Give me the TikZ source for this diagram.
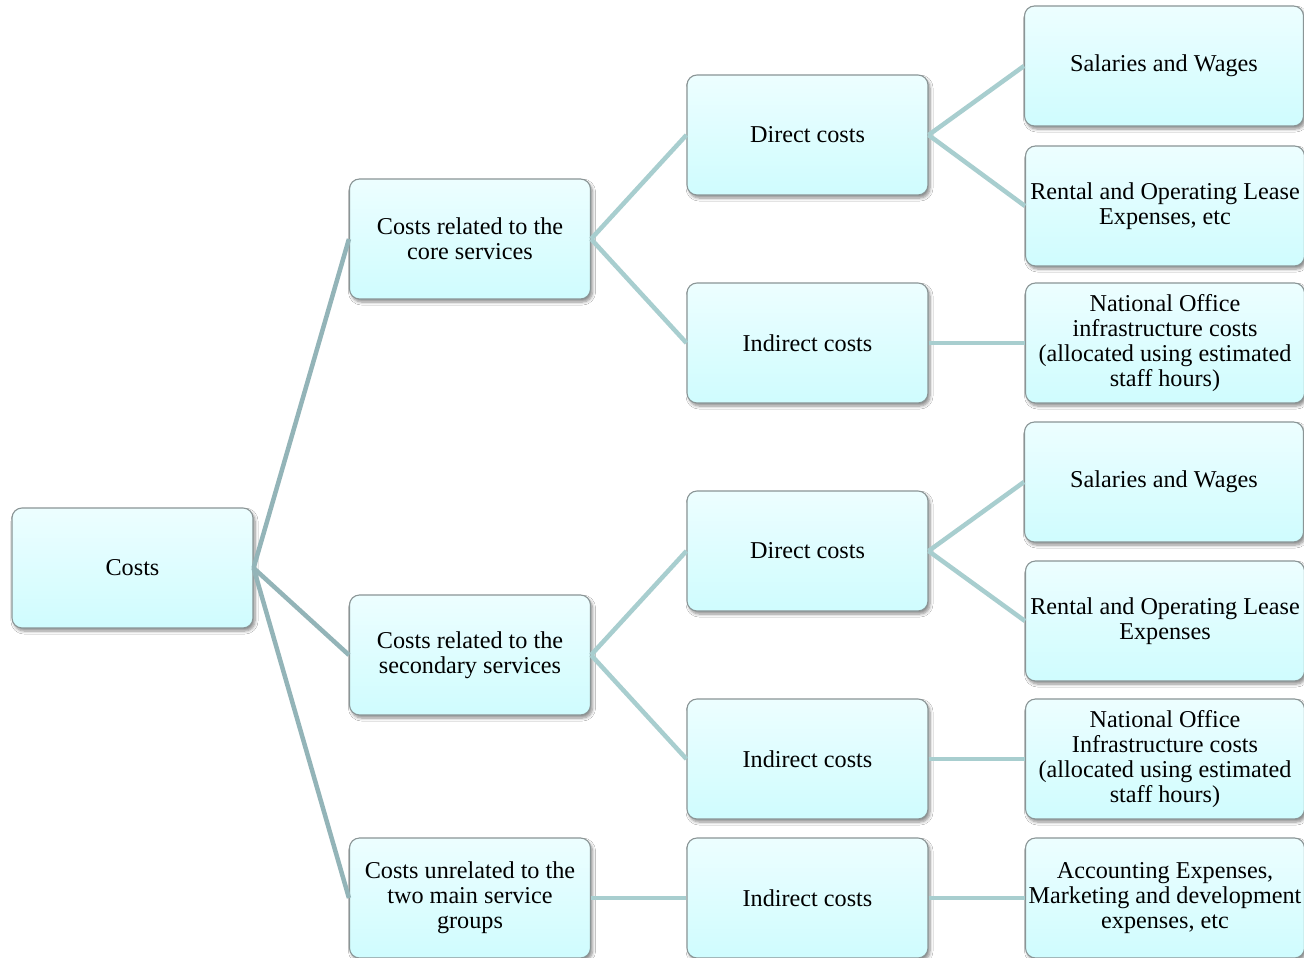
\documentclass[tikz,border=0pt]{standalone}
\usepackage{fontspec}
\setmainfont{Liberation Serif}
\usetikzlibrary{shadows.blur}
\definecolor{boxtop}{HTML}{EDFEFF}
\definecolor{boxbot}{HTML}{CFFCFE}
\definecolor{boxedge}{HTML}{8A9596}
\definecolor{linkA}{HTML}{93B4B8}
\definecolor{linkB}{HTML}{A8CECF}
\tikzset{
  costbox/.style={draw=boxedge, line width=1.1pt, rounded corners=10pt,
    top color=boxtop, bottom color=boxbot,
    minimum width=241pt, minimum height=120pt, align=center,
    font=\fontsize{24.2}{25}\selectfont, inner sep=1pt,
    blur shadow={shadow xshift=2pt, shadow yshift=-3pt, shadow blur steps=6,
      shadow blur radius=3pt, shadow opacity=45}},
  widebox/.style={costbox, minimum width=279pt},
  rootlink/.style={draw=linkA, line width=4.5pt},
  link/.style={draw=linkB, line width=4.5pt}
}
\begin{document}
\begin{tikzpicture}[x=1pt,y=-1pt]
\useasboundingbox (0,0) rectangle (1304,958);
\fill[white] (0,0) rectangle (1304,958);

% level 0 and 1
\node[costbox] (costs) at (132.5,568) {Costs};
\node[costbox] (core) at (470,239) {Costs related to the\\core services};
\node[costbox] (second) at (470,655) {Costs related to the\\secondary services};
\node[costbox] (other) at (470,898) {Costs unrelated to the\\two main service\\groups};

% level 2
\node[costbox] (dir1) at (807.5,135) {Direct costs};
\node[costbox] (ind1) at (807.5,343) {Indirect costs};
\node[costbox] (dir2) at (807.5,551) {Direct costs};
\node[costbox] (ind2) at (807.5,759) {Indirect costs};
\node[costbox] (ind3) at (807.5,898) {Indirect costs};

% level 3
\node[widebox] (sal1) at (1164,66) {Salaries and Wages};
\node[widebox] (rent1) at (1165,206) {Rental and Operating Lease\\Expenses, etc};
\node[widebox] (nat1) at (1165,343) {National Office\\infrastructure costs\\(allocated using estimated\\staff hours)};
\node[widebox] (sal2) at (1164,482) {Salaries and Wages};
\node[widebox] (rent2) at (1165,621) {Rental and Operating Lease\\Expenses};
\node[widebox] (nat2) at (1165,759) {National Office\\Infrastructure costs\\(allocated using estimated\\staff hours)};
\node[widebox] (acc) at (1165,898) {Accounting Expenses,\\Marketing and development\\expenses, etc};

% connectors
\path[rootlink] (costs.east) -- (core.west);
\path[rootlink] (costs.east) -- (second.west);
\path[rootlink] (costs.east) -- (other.west);
\path[link] (core.east) -- (dir1.west);
\path[link] (core.east) -- (ind1.west);
\path[link] (second.east) -- (dir2.west);
\path[link] (second.east) -- (ind2.west);
\path[link] (other.east) -- (ind3.west);
\path[link] (dir1.east) -- (sal1.west);
\path[link] (dir1.east) -- (rent1.west);
\path[link] (ind1.east) -- (nat1.west);
\path[link] (dir2.east) -- (sal2.west);
\path[link] (dir2.east) -- (rent2.west);
\path[link] (ind2.east) -- (nat2.west);
\path[link] (ind3.east) -- (acc.west);
\end{tikzpicture}
\end{document}
